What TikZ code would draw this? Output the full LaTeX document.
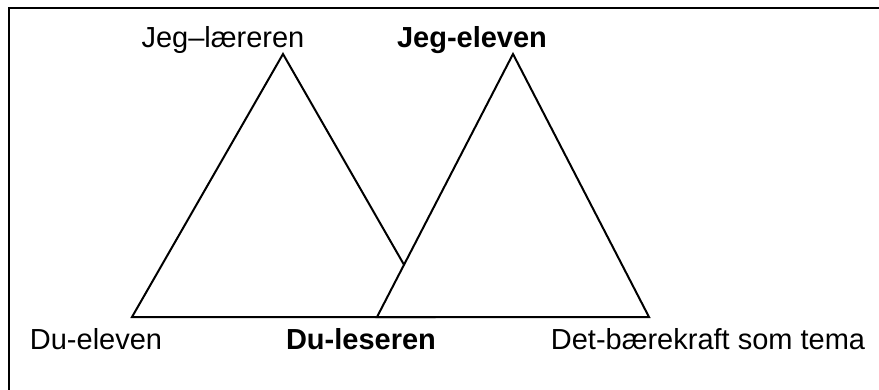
\documentclass[tikz,border=0pt]{standalone}
\usepackage{fontspec}
\setmainfont{Liberation Sans}
\begin{document}
\begin{tikzpicture}[x=1pt,y=-1pt,
  lbl/.style={anchor=base,inner sep=0pt,font=\fontsize{29}{34}\selectfont},
  bl/.style={lbl,font=\fontsize{29}{34}\selectfont\bfseries},
  tri/.style={line width=2pt,line join=miter}]
\useasboundingbox (0,0) rectangle (879,389);
\clip (0,0) rectangle (879,389);
\draw[line width=2pt] (9,8) rectangle (900,420);
% vertices
\coordinate (A1) at (283,54);
\coordinate (B1) at (132,317);
\coordinate (C1) at (434,317);
\coordinate (A2) at (513,54);
\coordinate (B2) at (377,317);
\coordinate (C2) at (649,317);
\draw[tri] (A1) -- (B1) -- (C1) -- cycle;
\draw[tri,fill=white] (A2) -- (B2) -- (C2) -- cycle;
% labels
\node[lbl] (jl) at (223,47) {Jeg–læreren};
\node[bl] (je) at (472,47) {Jeg-eleven};
\node[lbl] (de) at (96,349) {Du-eleven};
\node[bl] (dl) at (361,349) {Du-leseren};
\node[lbl] (db) at (708,349) {Det-bærekraft som tema};
\end{tikzpicture}
\end{document}
